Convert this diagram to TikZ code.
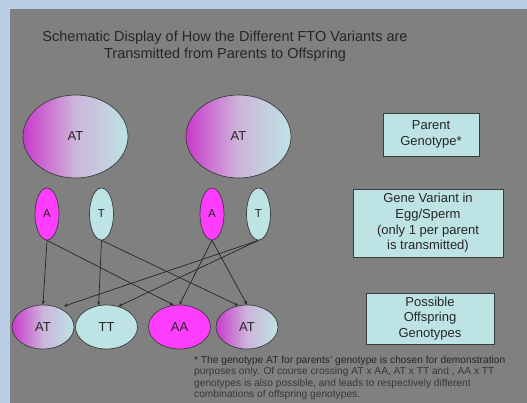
\documentclass[tikz,border=0pt]{standalone}
\usepackage{fontspec}
\setmainfont{Liberation Sans}
\usetikzlibrary{shapes.geometric,arrows.meta}
\definecolor{bgblue}{HTML}{B9CDE5}
\definecolor{slate}{HTML}{808080}
\definecolor{mag}{HTML}{FF3DFF}
\definecolor{magdark}{HTML}{C93ACB}
\definecolor{lcyan}{HTML}{BDE3E4}
\definecolor{lav}{HTML}{CDB5DA}
\definecolor{edgec}{HTML}{3C3C3C}
\definecolor{ink}{HTML}{262626}
\definecolor{ghost}{HTML}{383838}
\begin{document}
\begin{tikzpicture}[x=1pt,y=-1pt,
  ell/.style={ellipse, draw=edgec, line width=0.7pt, inner sep=0pt, text=ink},
  grad/.style={left color=magdark, right color=lcyan, middle color=lav},
  parentell/.style={ell, minimum width=105pt, minimum height=83pt, font=\fontsize{13}{15}\selectfont},
  geneell/.style={ell, minimum width=24pt, minimum height=52pt, font=\fontsize{11.5}{13}\selectfont},
  offell/.style={ell, minimum width=62pt, minimum height=44pt, font=\fontsize{13}{15}\selectfont},
  infobox/.style={rectangle, draw=edgec, line width=0.8pt, fill=lcyan, align=center, inner sep=0pt, text=ink, font=\fontsize{13}{15.6}\selectfont},
  conn/.style={draw=black!85, line width=0.7pt, -{Stealth[length=4pt,width=3.2pt]}}
]
\useasboundingbox (0,0) rectangle (527,403);
\fill[bgblue] (0,0) rectangle (527,403);
\fill[slate] (10,9) rectangle (527,403);

% title
\node[align=center, text=ink, font=\fontsize{14.5}{17}\selectfont, inner sep=0pt] (title) at (225,46)
  {Schematic Display of How the Different FTO Variants are\\Transmitted from Parents to Offspring};

% parents
\node[parentell, grad] (P1) at (75.5,136.5) {AT};
\node[parentell, grad] (P2) at (238.5,136.5) {AT};

% gene variants
\node[geneell, fill=mag] (A1) at (47,214) {A};
\node[geneell, fill=lcyan] (T1) at (101.5,214) {T};
\node[geneell, fill=mag] (A2) at (212,214) {A};
\node[geneell, fill=lcyan] (T2) at (258.5,214) {T};

% offspring
\node[offell, grad] (O1) at (43,327) {AT};
\node[offell, fill=lcyan] (O2) at (106.5,327) {TT};
\node[offell, fill=mag] (O3) at (179.5,327) {AA};
\node[offell, grad] (O4) at (247,327) {AT};

% connectors
\draw[conn] (A1.south) -- (O1.north);
\draw[conn] (A1.south) -- (O3.105);
\draw[conn] (T1.south) -- (O2.110);
\draw[conn] (T1.south) -- (O4.112);
\draw[conn] (A2.south) -- (O3.north);
\draw[conn] (A2.south) -- (O4.north);
\draw[conn, shorten >=5pt] (T2.south) -- (O1.50);
\draw[conn] (T2.south) -- (O2.60);

% info boxes
\node[infobox, minimum width=96pt, minimum height=43pt] (b1) at (431,134.5) {Parent\\Genotype*};
\node[infobox, minimum width=150pt, minimum height=68pt] (b2) at (428,223) {Gene Variant in\\Egg/Sperm\\(only 1 per parent\\is transmitted)};
\node[infobox, minimum width=128pt, minimum height=51pt] (b3) at (430,318.5) {Possible\\Offspring\\Genotypes};

% footnote
\node[anchor=north west, align=left, inner sep=0pt, text=ink, font=\fontsize{10.2}{11.4}\selectfont] (note) at (194,356)
  {* The genotype AT for parents' genotype is chosen for demonstration\\
   \textcolor{ghost}{purposes only. Of course crossing AT x AA, AT x TT and , AA x TT}\\
   \textcolor{ghost}{genotypes is also possible, and leads to respectively different}\\
   \textcolor{ghost}{combinations of offspring genotypes.}};
\end{tikzpicture}
\end{document}
